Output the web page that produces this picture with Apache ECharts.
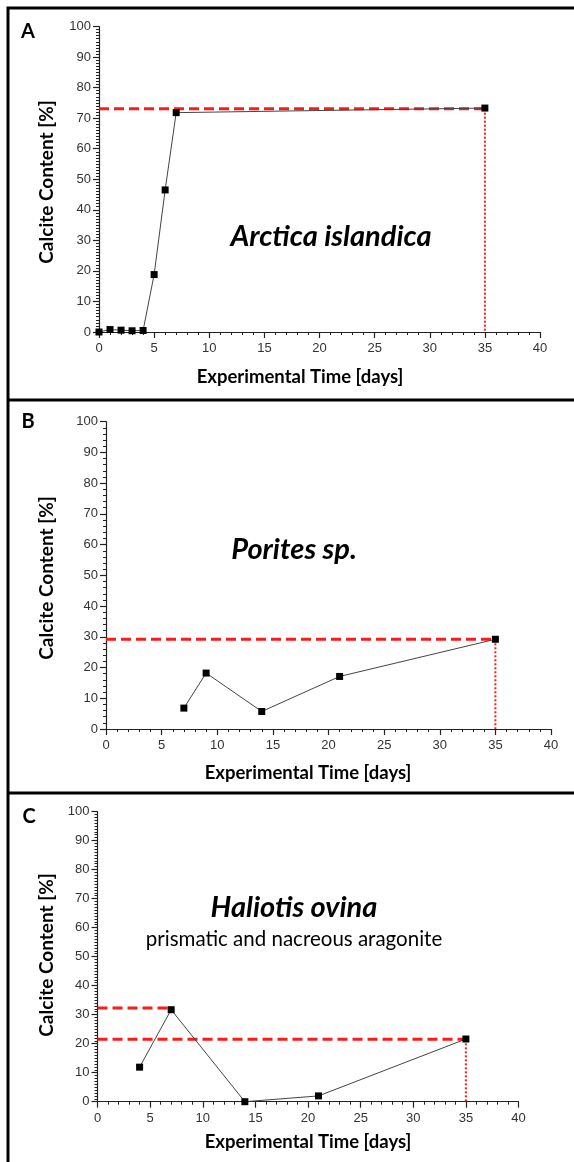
<!DOCTYPE html>
<html>
<head>
<meta charset="utf-8">
<script src="https://cdn.jsdelivr.net/npm/echarts@6/dist/echarts.min.js"></script>
<style>
html,body{margin:0;padding:0;background:#fff;}
#c{width:574px;height:1162px;}
</style>
</head>
<body>
<div id="c"></div>
<script>
// ---- data ----
const A_days = [0, 1, 2, 3, 4, 5, 6, 7, 35];
const A_vals = [0, 0.8, 0.6, 0.4, 0.5, 18.8, 46.5, 71.8, 73.3];
const A_refH = [[0, 73.1], [35, 73.1]];
const A_refV = [[35, 73.1], [35, 0]];

const B_days = [7, 9, 14, 21, 35];
const B_vals = [6.8, 18.2, 5.7, 17.1, 29.2];
const B_refH = [[0, 29.2], [35, 29.2]];
const B_refV = [[35, 29.2], [35, 0]];

const C_days = [4, 7, 14, 21, 35];
const C_vals = [11.9, 31.7, 0, 2.0, 21.6];
const C_refH1 = [[0, 32.3], [7, 32.3]];
const C_refH2 = [[0, 21.5], [35, 21.5]];
const C_refV = [[35, 21.5], [35, 0]];

const xTicks = [0, 5, 10, 15, 20, 25, 30, 35, 40];
const yTicks = [0, 10, 20, 30, 40, 50, 60, 70, 80, 90, 100];

const titleFont = 'Lato, "Open Sans", sans-serif';
const tickFont = '"Liberation Sans", Arial, sans-serif';

const grids = [
  {left: 99, top: 26.5, width: 441, height: 305.5},
  {left: 106, top: 421.7, width: 445, height: 307.3},
  {left: 97.5, top: 811.5, width: 421, height: 290.2}
];
const yMinor = [10, 5, 10];

function pair(xs, ys) { return xs.map((x, i) => [x, ys[i]]); }

const xAxes = grids.map((g, i) => ({
  type: 'value', gridIndex: i, min: xTicks[0], max: xTicks[xTicks.length - 1], interval: 5,
  axisLine: {onZero: false, lineStyle: {color: '#222', width: 1.2}},
  axisTick: {show: true, length: 6, lineStyle: {color: '#222', width: 1.2}},
  minorTick: {show: true, splitNumber: 5, length: 3, lineStyle: {color: '#222', width: 1}},
  splitLine: {show: false},
  axisLabel: {color: '#333', fontSize: 13, fontFamily: tickFont, margin: 10}
}));
const yAxes = grids.map((g, i) => ({
  type: 'value', gridIndex: i, min: yTicks[0], max: yTicks[yTicks.length - 1], interval: 10,
  axisLine: {show: true, onZero: false, lineStyle: {color: '#222', width: 1.2}},
  axisTick: {show: true, length: 6, lineStyle: {color: '#222', width: 1.2}},
  minorTick: {show: true, splitNumber: yMinor[i], length: 3, lineStyle: {color: '#222', width: 1}},
  splitLine: {show: false},
  axisLabel: {color: '#333', fontSize: 13, fontFamily: tickFont, margin: 8}
}));

function dataSeries(idx, xs, ys) {
  return {
    type: 'line', xAxisIndex: idx, yAxisIndex: idx, data: pair(xs, ys),
    symbol: 'rect', symbolSize: 7, itemStyle: {color: '#000'},
    lineStyle: {color: '#444', width: 1}, z: 5, animation: false
  };
}
function dashSeries(idx, d) {
  return {
    type: 'line', xAxisIndex: idx, yAxisIndex: idx, data: d, symbol: 'none',
    lineStyle: {color: '#ff1a1a', width: 3, type: [10, 5]}, z: 4, animation: false
  };
}
function dotSeries(idx, d) {
  return {
    type: 'line', xAxisIndex: idx, yAxisIndex: idx, data: d, symbol: 'none',
    lineStyle: {color: '#ff1a1a', width: 2, type: [2, 2]}, z: 4, animation: false
  };
}

const series = [
  dashSeries(0, A_refH), dotSeries(0, A_refV), dataSeries(0, A_days, A_vals),
  dashSeries(1, B_refH), dotSeries(1, B_refV), dataSeries(1, B_days, B_vals),
  dashSeries(2, C_refH1), dashSeries(2, C_refH2), dotSeries(2, C_refV), dataSeries(2, C_days, C_vals)
];

function txt(x, y, s, size, weight, style, rot) {
  return {
    type: 'text', x: x, y: y, rotation: rot || 0, z: 10,
    style: {text: s, fill: '#000', font: (style || 'normal') + ' ' + weight + ' ' + size + 'px ' + titleFont,
            textAlign: 'center', textVerticalAlign: 'middle'}
  };
}

const graphic = [
  {type: 'rect', shape: {x: 8, y: 8, width: 580, height: 1170}, style: {fill: 'none', stroke: '#000', lineWidth: 3}},
  {type: 'line', shape: {x1: 8, y1: 400, x2: 580, y2: 400}, style: {stroke: '#000', lineWidth: 3}},
  {type: 'line', shape: {x1: 8, y1: 793, x2: 580, y2: 793}, style: {stroke: '#000', lineWidth: 3}},
  txt(28, 32, 'A', 20, 'bold'),
  txt(28, 422, 'B', 20, 'bold'),
  txt(29, 817, 'C', 20, 'bold'),
  txt(47, 182, 'Calcite Content [%]', 19, 'bold', 'normal', Math.PI / 2),
  txt(47, 578, 'Calcite Content [%]', 19, 'bold', 'normal', Math.PI / 2),
  txt(47, 955, 'Calcite Content [%]', 19, 'bold', 'normal', Math.PI / 2),
  txt(300, 377, 'Experimental Time [days]', 18.5, 'bold'),
  txt(308, 773, 'Experimental Time [days]', 18.5, 'bold'),
  txt(308, 1142, 'Experimental Time [days]', 18.5, 'bold'),
  txt(331, 237, 'Arctica islandica', 29, 'bold', 'italic'),
  txt(294, 550, 'Porites sp.', 29, 'bold', 'italic'),
  txt(294, 908, 'Haliotis ovina', 29, 'bold', 'italic'),
  txt(294, 939, 'prismatic and nacreous aragonite', 20.5, 'normal')
];

const chart = echarts.init(document.getElementById('c'), null, {renderer: 'canvas'});
chart.setOption({
  animation: false,
  backgroundColor: '#fff',
  grid: grids,
  xAxis: xAxes,
  yAxis: yAxes,
  series: series,
  graphic: graphic
});
</script>
</body>
</html>
